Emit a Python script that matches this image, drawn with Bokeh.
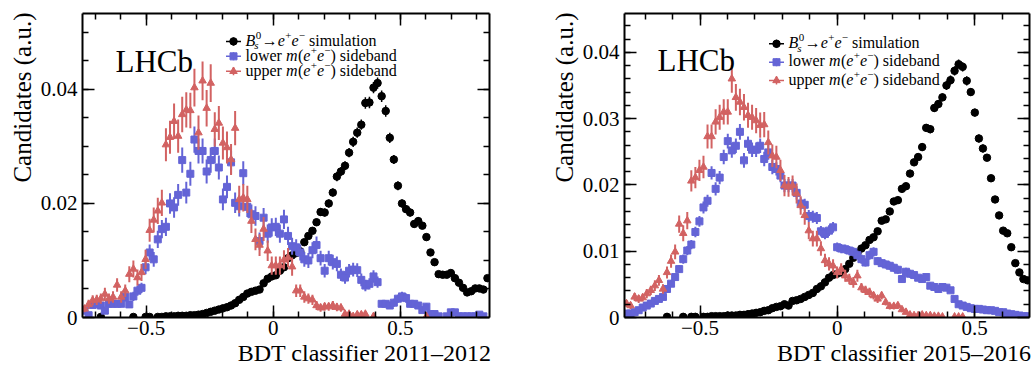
import numpy as np
from bokeh.plotting import figure
from bokeh.layouts import row
from bokeh.models import (ColumnDataSource, Range1d, LinearAxis, FixedTicker,
                          Label, Title, CustomJSTickFormatter)
from bokeh.embed import file_html
from bokeh.resources import INLINE

# ---------------------------------------------------------------------------
# Histogram binning (100 bins per panel) and bin contents.
# Contents and uncertainties are given in units of 1e-4 (normalised to unit area);
# None marks an empty bin.
# ---------------------------------------------------------------------------
NBINS = 100
UNIT = 1e-4
RANGE_1112 = (-0.75, 0.85)
RANGE_1516 = (-0.775, 0.70)

# ---- 2011-2012 -------------------------------------------------------------
sim_1112 = [
    None, None, None, None, 1, None, None, None, None, None,
    None, None, 1, None, None, 1, 1, None, 1, 1,
    2, 2, 2, 3, 3, 3, 4, 4, 5, 6,
    8, 10, 12, 14, 16, 18, 21, 25, 31, 36,
    42, 45, 47, 49, 60, 68, 72, 74, 82, 88,
    104, 109, 113, 116, 132, 143, 152, 167, 185, 184,
    200, 219, 247, 256, 266, 289, 308, 324, 338, 376,
    377, 403, 411, 388, 362, 315, 277, 231, 200, 190,
    184, 164, 169, 161, 141, 114, 97, 76, 75, 75,
    78, 69, 61, 52, 44, 46, 51, 51, 49, 69]
sim_1112_err = [
    0, 0, 0, 0, 1, 0, 0, 0, 0, 0,
    0, 0, 1, 0, 0, 1, 1, 0, 1, 1,
    1, 1, 1, 1, 1, 1, 1, 1, 1, 1,
    1, 2, 2, 2, 2, 2, 2, 3, 3, 3,
    3, 3, 3, 4, 4, 4, 4, 4, 5, 5,
    5, 5, 5, 5, 6, 6, 6, 6, 7, 7,
    7, 7, 8, 8, 8, 8, 9, 9, 9, 10,
    10, 10, 10, 10, 10, 9, 8, 8, 7, 7,
    7, 6, 7, 6, 6, 5, 5, 4, 4, 4,
    4, 4, 4, 4, 3, 3, 4, 4, 4, 4]
lower_1112 = [
    12, 4, 22, 24, 21, 12, 24, 24, 24, 24,
    36, 23, 37, 47, 52, 88, 114, 102, 137, 155,
    159, 200, 193, 215, 276, 219, 252, 312, 292, 292,
    256, 276, 292, 263, 207, 229, 272, 201, 195, 253,
    194, 181, 178, 134, 175, 147, 158, 159, 147, 172,
    143, 125, 123, 114, 102, 100, 118, 127, 104, 82,
    104, 97, 94, 75, 70, 82, 84, 83, 66, 56,
    59, 72, 62, 24, 24, 21, 26, 33, 37, 34,
    24, 24, 21, 13, 19, 6, 6, 2, None, 2,
    9, 9, 2, 2, 2, 2, 2, 5, 2, None]
lower_1112_err = [
    5, 3, 6, 6, 6, 5, 6, 6, 6, 6,
    8, 6, 8, 9, 9, 12, 14, 13, 15, 16,
    16, 18, 18, 19, 22, 19, 21, 23, 22, 22,
    21, 22, 22, 21, 19, 20, 21, 18, 18, 21,
    18, 17, 17, 15, 17, 16, 16, 16, 16, 17,
    16, 15, 14, 14, 13, 13, 14, 15, 13, 12,
    13, 13, 13, 11, 11, 12, 12, 12, 11, 10,
    10, 11, 10, 6, 6, 6, 7, 7, 8, 8,
    6, 6, 6, 5, 6, 3, 3, 2, 0, 2,
    4, 4, 2, 2, 2, 2, 2, 3, 2, 0]
upper_1112 = [
    15, 23, 30, 31, 33, 41, 33, 36, 57, 36,
    47, 76, 85, 70, 79, 102, 153, 171, 187, 201,
    303, 316, 344, 318, 356, 364, 363, 403, 324, 415,
    367, 411, 330, 341, 306, 298, 277, 332, 207, 210,
    207, 169, 137, 127, 155, 117, 91, 91, 91, 101,
    105, 89, 47, 47, 36, 33, 31, 21, 17, 19,
    19, 21, 18, 17, 6, 6, 2, 5, 5, 6,
    None, 2, None, None, None, None, None, None, None, None,
    None, None, None, None, 2, None, None, None, None, None,
    None, None, None, None, None, None, None, None, None, None]
upper_1112_err = [
    6, 8, 9, 9, 9, 11, 9, 10, 12, 10,
    11, 14, 15, 14, 15, 17, 20, 22, 23, 23,
    29, 29, 31, 29, 31, 31, 31, 33, 30, 34,
    32, 33, 30, 30, 29, 28, 27, 30, 24, 24,
    24, 21, 19, 19, 21, 18, 16, 16, 16, 17,
    17, 16, 11, 11, 10, 9, 9, 8, 7, 7,
    7, 8, 7, 7, 4, 4, 2, 4, 4, 4,
    0, 2, 0, 0, 0, 0, 0, 0, 0, 0,
    0, 0, 0, 0, 2, 0, 0, 0, 0, 0,
    0, 0, 0, 0, 0, 0, 0, 0, 0, 0]

# ---- 2015-2016 -------------------------------------------------------------
sim_1516 = [
    None, None, None, None, None, None, None, None, None, None,
    1, None, None, None, 1, None, 1, 1, None, 1,
    1, 2, 2, 2, 2, 3, 3, 3, 4, 4,
    5, 6, 7, 8, 10, 11, 14, 16, 17, 20,
    18, 25, 26, 28, 31, 34, 37, 43, 47, 53,
    60, 64, 66, 68, 73, 81, 90, 97, 104, 109,
    117, 121, 130, 146, 148, 160, 175, 177, 194, 198,
    217, 234, 242, 257, 286, 284, 316, 322, 332, 350,
    358, 372, 382, 378, 357, 340, 309, 270, 255, 241,
    210, 178, 154, 131, 127, 106, 82, 68, 58, 56]
sim_1516_err = [
    0, 0, 0, 0, 0, 0, 0, 0, 0, 0,
    1, 0, 0, 0, 1, 0, 1, 1, 0, 1,
    1, 1, 1, 1, 1, 1, 1, 1, 1, 1,
    1, 1, 1, 1, 1, 1, 1, 1, 1, 2,
    1, 2, 2, 2, 2, 2, 2, 2, 2, 3,
    3, 3, 3, 3, 3, 3, 3, 3, 4, 4,
    4, 4, 4, 4, 4, 4, 5, 5, 5, 5,
    5, 5, 5, 6, 6, 6, 6, 6, 6, 7,
    7, 7, 7, 7, 7, 6, 6, 6, 6, 5,
    5, 5, 4, 4, 4, 4, 3, 3, 3, 3]
lower_1516 = [
    6, 6, 8, 11, 15, 18, 21, 25, 28, 31,
    43, 51, 61, 73, 88, 101, 110, 129, 145, 166,
    176, 218, 194, 211, 242, 266, 252, 259, 280, 237,
    262, 253, 253, 259, 239, 249, 227, 224, 214, 199,
    199, 199, 188, 172, 170, 153, 152, 150, 130, 126,
    131, 136, 106, 104, 103, 101, 99, 94, 88, 83,
    94, 99, 85, 82, 80, 78, 75, 72, 58, 69,
    66, 64, 60, 58, 61, 48, 46, 43, 46, 45,
    41, 28, 20, 18, 16, 14, 13, 13, 12, 11,
    11, 10, 8, 8, 6, 5, 4, 3, 2, 2]
lower_1516_err = [
    2, 2, 2, 2, 3, 3, 3, 4, 4, 4,
    5, 5, 5, 6, 7, 7, 7, 8, 8, 9,
    9, 10, 10, 10, 11, 11, 11, 11, 12, 11,
    11, 11, 11, 11, 11, 11, 11, 10, 10, 10,
    10, 10, 10, 9, 9, 9, 9, 9, 8, 8,
    8, 8, 7, 7, 7, 7, 7, 7, 7, 6,
    7, 7, 6, 6, 6, 6, 6, 6, 5, 6,
    6, 6, 5, 5, 5, 5, 5, 5, 5, 5,
    4, 4, 3, 3, 3, 3, 3, 3, 2, 2,
    2, 2, 2, 2, 2, 2, 1, 1, 1, 1]
upper_1516 = [
    21, 18, 31, 28, 30, 36, 41, 48, 56, 43,
    68, 85, 99, 141, 127, 146, 206, 211, 222, 227,
    273, 273, 295, 302, 310, 310, 360, 332, 325, 317,
    305, 302, 297, 290, 291, 264, 244, 242, 222, 199,
    197, 199, 187, 169, 154, 131, 119, 119, 104, 86,
    81, 78, 68, 73, 63, 58, 53, 63, 45, 41,
    38, 33, 28, 33, 23, 17, 17, 18, 12, 8,
    4, 3, 3, 4, 3, 3, 2, 2, 1, None,
    None, 1, 1, 1, None, None, None, None, None, None,
    None, None, None, None, None, None, None, None, None, None]
upper_1516_err = [
    5, 5, 6, 6, 6, 7, 7, 8, 8, 7,
    9, 10, 11, 13, 12, 13, 16, 16, 16, 17,
    18, 18, 19, 19, 19, 19, 21, 20, 20, 20,
    19, 19, 19, 19, 19, 18, 17, 17, 16, 16,
    15, 15, 15, 14, 14, 13, 12, 12, 11, 10,
    10, 10, 9, 9, 9, 8, 8, 9, 7, 7,
    7, 6, 6, 6, 5, 5, 5, 5, 4, 3,
    2, 2, 2, 2, 2, 2, 2, 2, 1, 0,
    0, 1, 1, 1, 0, 0, 0, 0, 0, 0,
    0, 0, 0, 0, 0, 0, 0, 0, 0, 0]

X_MAJOR = [-0.5, 0.0, 0.5]

# ---------------------------------------------------------------------------
# Styling
# ---------------------------------------------------------------------------
SERIF = "Liberation Serif"
BLUE = "#6464d6"
RED = "#d26262"
FIG_W, FIG_H = 517, 369

# Advance widths (em) of the Times-metric serif face, used to lay out the
# mixed roman / italic / superscript legend labels.
ROMAN_W = {' ': 0.25, 'a': 0.444, 'b': 0.5, 'c': 0.444, 'd': 0.5, 'e': 0.444,
           'i': 0.278, 'l': 0.278, 'm': 0.778, 'n': 0.5, 'o': 0.5, 'p': 0.5,
           'r': 0.333, 's': 0.389, 't': 0.278, 'u': 0.5, 'w': 0.722,
           '(': 0.333, ')': 0.333, '0': 0.5, '+': 0.564, '\u2212': 0.564,
           '\u2192': 1.0}
ITALIC_W = {'B': 0.611, 'e': 0.444, 'm': 0.722, 's': 0.389}
MID = 0.34          # distance (em) from the baseline up to the middle of the text box

LEG_FONT = 16.0
SCRIPT_FONT = 11.0


def text_width(text, italic, size):
    table = ITALIC_W if italic else ROMAN_W
    return sum(table.get(ch, 0.5) for ch in text) * size


def draw_series(p, x, vals, errs, marker, size, color, err_color, err_width):
    v = np.array(vals, dtype=float) * UNIT
    e = np.array(errs, dtype=float) * UNIT
    src = ColumnDataSource(dict(x=x, y=v, lo=v - e, hi=v + e))
    p.segment(x0="x", y0="lo", x1="x", y1="hi", source=src,
              line_color=err_color, line_width=err_width)
    p.scatter(x="x", y="y", source=src, marker=marker, size=size,
              fill_color=color, line_color=color)


def style_axis(ax, ticker, formatter, labels, standoff=5):
    ax.ticker = ticker
    ax.formatter = formatter
    ax.axis_line_color = "black"
    ax.axis_line_width = 2
    ax.major_tick_in = 12
    ax.major_tick_out = 0
    ax.minor_tick_in = 6
    ax.minor_tick_out = 0
    ax.major_tick_line_color = "black"
    ax.minor_tick_line_color = "black"
    ax.major_tick_line_width = 1.5
    ax.minor_tick_line_width = 1.5
    ax.major_label_text_font = SERIF
    ax.major_label_text_color = "black"
    ax.major_label_text_font_size = "21px" if labels else "0px"
    ax.major_label_standoff = standoff if labels else 0


def add_text(p, x, y, dx, baseline_dy, text, size, italic=False):
    """Place text whose baseline sits baseline_dy px below (x, y), dx px right of it."""
    p.add_layout(Label(x=x, y=y, x_offset=dx, y_offset=-(baseline_dy - MID * size),
                       text=text, text_align="left", text_baseline="middle",
                       text_font=SERIF, text_font_size=f"{size:g}px",
                       text_font_style="italic" if italic else "normal",
                       text_color="black"))


def make_panel(x_range, sim, sim_err, low, low_err, up, up_err,
               y_top, y_major, y_minor_step, borders, legend_rows_y,
               legend_x, lhcb_dy, period):
    lo, hi = x_range
    edges = np.linspace(lo, hi, NBINS + 1)
    centres = 0.5 * (edges[:-1] + edges[1:])
    b_left, b_right, b_top, b_bottom = borders
    fw = FIG_W - b_left - b_right
    fh = FIG_H - b_top - b_bottom

    p = figure(width=FIG_W, height=FIG_H,
               x_range=Range1d(lo, hi), y_range=Range1d(0, y_top),
               min_border_left=b_left, min_border_right=b_right,
               min_border_top=b_top, min_border_bottom=b_bottom,
               output_backend="svg", toolbar_location=None,
               background_fill_color="white", border_fill_color="white")
    p.outline_line_color = None
    p.xgrid.visible = False
    p.ygrid.visible = False

    # frame coordinate helpers (pixels measured from the frame's top-left)
    def fx(px):
        return lo + px * (hi - lo) / fw

    def fy(py):
        return y_top - py * y_top / fh

    # ---- axes: labelled bottom/left, mirrored ticks on top/right ----
    x_minor = [round(t, 2) for t in np.arange(-0.7, hi, 0.1) if lo < t < hi - 1e-6]
    y_minor = [round(k * y_minor_step, 4) for k in range(1, 40) if k * y_minor_step < y_top]
    xt = FixedTicker(ticks=X_MAJOR, minor_ticks=x_minor)
    yt = FixedTicker(ticks=y_major, minor_ticks=y_minor)
    xfmt = CustomJSTickFormatter(
        code="return Math.abs(tick) < 1e-9 ? '0' : tick.toFixed(1).replace('-', '\u2212')")
    yfmt = CustomJSTickFormatter(
        code="return Math.abs(tick) < 1e-9 ? '0' : tick.toFixed(2)")
    blank = CustomJSTickFormatter(code="return ''")

    style_axis(p.below[0], xt, xfmt, True, standoff=3)
    style_axis(p.left[0], yt, yfmt, True, standoff=5)
    top_ax = LinearAxis()
    right_ax = LinearAxis()
    style_axis(top_ax, xt, blank, False)
    style_axis(right_ax, yt, blank, False)
    p.add_layout(top_ax, "above")
    p.add_layout(right_ax, "right")

    # ---- axis titles (right/top aligned, outside the frame) ----
    p.add_layout(Title(text="BDT classifier " + period, align="right", offset=-2,
                       standoff=0, text_font=SERIF, text_font_size="24px",
                       text_font_style="normal", text_color="black"), "below")
    p.add_layout(Title(text="Candidates (a.u.)", align="right", offset=-1,
                       standoff=3, text_font=SERIF, text_font_size="25px",
                       text_font_style="normal", text_color="black"), "left")

    # ---- data ----
    draw_series(p, centres, sim, sim_err, "circle", 7.5, "black", "black", 1.5)
    draw_series(p, centres, low, low_err, "square", 7, BLUE, BLUE, 2)
    draw_series(p, centres, up, up_err, "triangle", 7.5, RED, RED, 2)

    add_text(p, lo, y_top, 33, lhcb_dy, "LHCb", 31)

    # ---- legend ----
    mx = legend_x
    tx = legend_x + 12
    entries = [
        ("circle", 7.5, "black",
         [("B", True, 0, True, 0.0), ("0", False, 1, False, 0.5),
          ("s", True, -1, True, -1.0), ("\u2192", False, 0, True, 0.5),
          ("e", True, 0, True, 0.0), ("+", False, 1, True, 0.3),
          ("e", True, 0, True, 0.0), ("\u2212", False, 1, True, 0.3),
          (" simulation", False, 0, True, 0.0)]),
        ("square", 7, BLUE,
         [("lower ", False, 0, True, 0.0), ("m", True, 0, True, 0.0),
          ("(", False, 0, True, 0.5), ("e", True, 0, True, 0.0),
          ("+", False, 1, True, 0.3), ("e", True, 0, True, 0.0),
          ("\u2212", False, 1, True, 0.3), (") sideband", False, 0, True, 0.0)]),
        ("triangle", 7.5, RED,
         [("upper ", False, 0, True, 0.0), ("m", True, 0, True, 0.0),
          ("(", False, 0, True, 0.5), ("e", True, 0, True, 0.0),
          ("+", False, 1, True, 0.3), ("e", True, 0, True, 0.0),
          ("\u2212", False, 1, True, 0.3), (") sideband", False, 0, True, 0.0)]),
    ]
    for (marker, msize, color, pieces), my in zip(entries, legend_rows_y):
        p.segment(x0=[fx(mx - 7.5), fx(mx)], y0=[fy(my), fy(my - 4)],
                  x1=[fx(mx + 7.5), fx(mx)], y1=[fy(my), fy(my + 4)],
                  line_color=color, line_width=1.5)
        p.scatter(x=[fx(mx)], y=[fy(my)], marker=marker, size=msize,
                  fill_color=color, line_color=color)
        base = my + 4
        cursor = tx
        held = 0.0
        for text, italic, level, advance, dx in pieces:
            size = LEG_FONT if level == 0 else SCRIPT_FONT
            lead = len(text) - len(text.lstrip(" "))
            shown = text.lstrip(" ")
            cursor += lead * ROMAN_W[' '] * size
            dy = {0: 0.0, 1: -6.5, -1: 3.5}[level]
            add_text(p, lo, y_top, cursor + dx, base + dy, shown, size, italic)
            w = text_width(shown, italic, size) + dx
            if advance:
                cursor += max(w, held)
                held = 0.0
            else:
                held = max(held, w)
    return p


p1 = make_panel(RANGE_1112, sim_1112, sim_1112_err, lower_1112, lower_1112_err,
                upper_1112, upper_1112_err,
                y_top=0.0533, y_major=[0.0, 0.02, 0.04], y_minor_step=0.005,
                borders=(82, 28, 12, 52), legend_rows_y=(28, 43, 58),
                legend_x=151, lhcb_dy=58.7, period="2011\u20132012")
p2 = make_panel(RANGE_1516, sim_1516, sim_1516_err, lower_1516, lower_1516_err,
                upper_1516, upper_1516_err,
                y_top=0.04585, y_major=[0.0, 0.01, 0.02, 0.03, 0.04], y_minor_step=0.002,
                borders=(107, 5, 13, 52), legend_rows_y=(30.3, 48.7, 67),
                legend_x=152, lhcb_dy=57.7, period="2015\u20132016")

layout = row(p1, p2, spacing=0)
open("out.html", "w").write(file_html(layout, INLINE))
